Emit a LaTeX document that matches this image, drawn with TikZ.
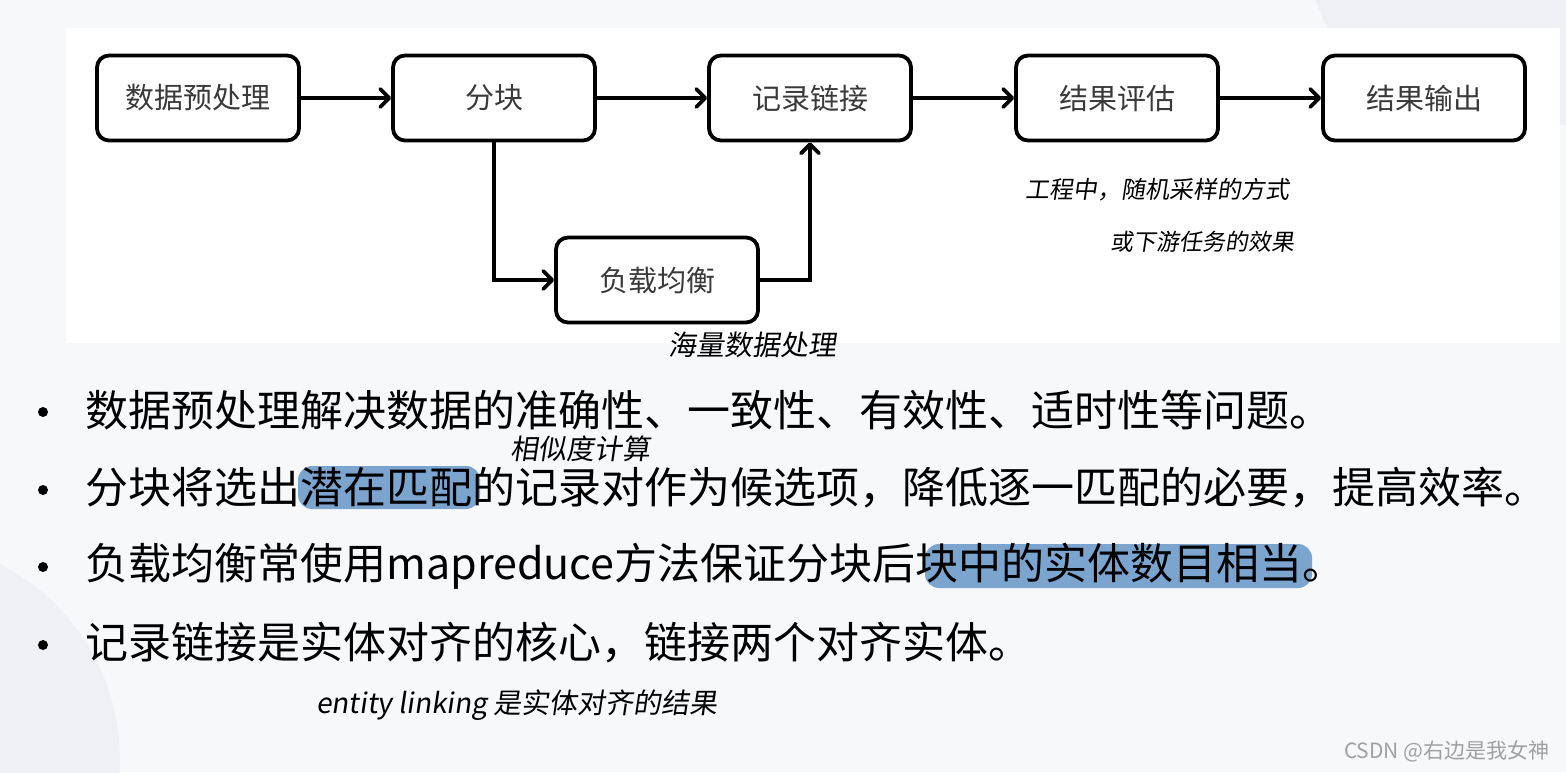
\documentclass[tikz,border=0pt]{standalone}
\usepackage{fontspec}
\setmainfont{Noto Sans CJK SC}
\newfontfamily\handfont[FakeSlant=0.15]{Noto Sans CJK SC}
\definecolor{PageBg}{HTML}{F7F8FA}
\definecolor{DecoGray}{HTML}{EEF0F3}
\definecolor{BoxText}{HTML}{3A3A3A}
\definecolor{MarkBlue}{HTML}{7BA5CF}
\definecolor{WaterGray}{HTML}{A0A0A0}
\usetikzlibrary{arrows.meta}

\begin{document}
\begin{tikzpicture}[x=0.5pt, y=-0.5pt,
  box/.style={rounded corners=6pt, draw=black, line width=1.9pt, fill=white,
              minimum width=101pt, minimum height=42.5pt, inner sep=0pt,
              font=\fontsize{14.5pt}{16pt}\selectfont, text=BoxText},
  arr/.style={-{Straight Barb[length=4.5pt, width=9pt, round]}, line width=1.9pt},
  item/.style={anchor=west, inner sep=0pt, font=\fontsize{21.5pt}{24pt}\selectfont},
  dot/.style={circle, fill=black, inner sep=0pt, minimum size=5pt},
  hilite/.style={fill=MarkBlue, rounded corners=7pt},
  hand/.style={inner sep=0pt, font=\handfont\fontsize{12pt}{14pt}\selectfont},
]
  % page and panel
  \useasboundingbox (0,0) rectangle (1566,772);
  \fill[PageBg] (0,0) rectangle (1566,772);
  \fill[DecoGray] (-100,760) circle (110pt);
  \fill[DecoGray] (1315,0) -- (1566,0) -- (1566,125) -- (1370,125) -- cycle;
  \fill[white] (66,28) rectangle (1560,343);

  % flow chart
  \node[box] (pre)  at (198,98)   {数据预处理};
  \node[box] (blk)  at (494,98)   {分块};
  \node[box] (link) at (810,98)   {记录链接};
  \node[box] (eval) at (1117,98)  {结果评估};
  \node[box] (out)  at (1424,98)  {结果输出};
  \node[box] (bal)  at (657,280)  {负载均衡};

  \draw[arr] (pre)  -- (blk);
  \draw[arr] (blk)  -- (link);
  \draw[arr] (link) -- (eval);
  \draw[arr] (eval) -- (out);
  \draw[arr] (blk.south) |- (bal.west);
  \draw[arr] (bal.east) -| (link.south);

  % highlights
  \fill[hilite] (298,466) rectangle (480,509);
  \fill[hilite] (925,544) rectangle (1312,588);

  % bullet list
  \node[dot] (d1) at (43,412) {};
  \node[dot] (d2) at (43,490) {};
  \node[dot] (d3) at (43,567) {};
  \node[dot] (d4) at (43,645) {};
  \node[item] (t1) at (85,410) {数据预处理解决数据的准确性、一致性、有效性、适时性等问题。};
  \node[item] (t2) at (85,488) {分块将选出潜在匹配的记录对作为候选项，降低逐一匹配的必要，提高效率。};
  \node[item] (t3) at (85,566) {负载均衡常使用mapreduce方法保证分块后块中的实体数目相当。};
  \node[item] (t4) at (85,643) {记录链接是实体对齐的核心，链接两个对齐实体。};

  % handwritten notes
  \node[hand, font=\handfont\fontsize{14pt}{16pt}\selectfont] (n1) at (752,345) {海量数据处理};
  \node[hand] (n2) at (1157,190) {工程中，随机采样的方式};
  \node[hand, font=\handfont\fontsize{11.5pt}{14pt}\selectfont] (n3) at (1202,242) {或下游任务的效果};
  \node[hand, font=\handfont\fontsize{14pt}{16pt}\selectfont] (n4) at (580,449) {相似度计算};
  \node[hand, font=\handfont\fontsize{14pt}{16pt}\selectfont] (n5) at (517,705) {entity linking 是实体对齐的结果};

  \node[inner sep=0pt, anchor=east, text=WaterGray, font=\fontsize{10.5pt}{12pt}\selectfont] (wm) at (1550,751) {CSDN @右边是我女神};
\end{tikzpicture}
\end{document}
